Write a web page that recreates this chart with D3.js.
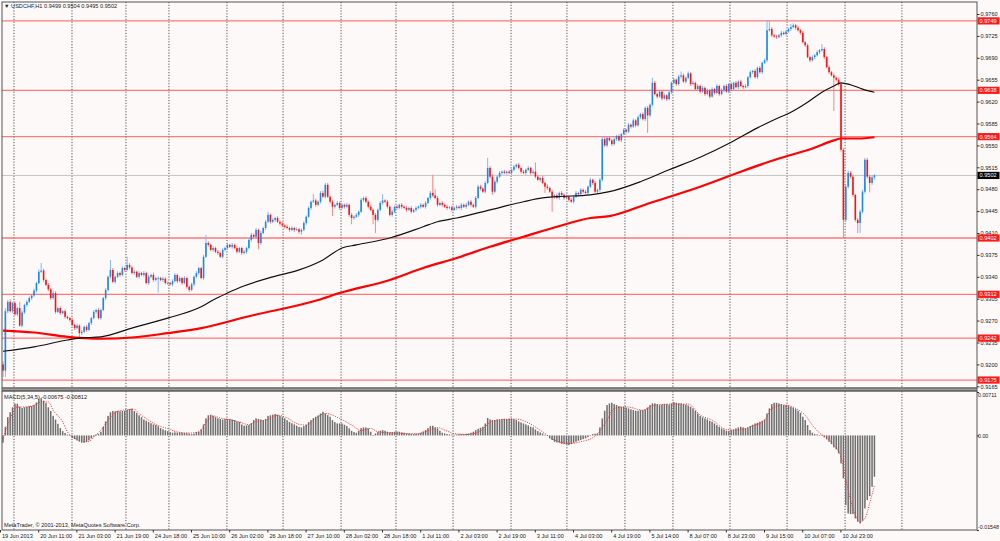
<!DOCTYPE html>
<html>
<head>
<meta charset="utf-8">
<script src="https://cdn.jsdelivr.net/npm/d3@7"></script>
<style>
  body { margin: 0; background: #fcf9f8; overflow: hidden; }
  svg text { font-family: "Liberation Sans", Arial, sans-serif; font-size: 5.6px; fill: #222; }
  svg .macd-axis text { font-size: 5.3px; }
</style>
</head>
<body>
<script>
// USDCHF H1, prices in pips (9502 = 0.9502)
const firstOpen = 9200;
const closes = [
  9190,9285,9300,9285,9298,9280,9290,9262,9283,9295,9300,9306,9310,9318,9330,9348,9350,9335,9327,9320,
  9306,9314,9284,9290,9282,9285,9276,9274,9271,9263,9258,9262,9250,9252,9260,9255,9266,9274,9284,9287,
  9274,9287,9306,9319,9340,9351,9332,9340,9346,9343,9354,9351,9359,9355,9346,9348,9340,9346,9343,9346,
  9330,9340,9343,9335,9338,9338,9335,9337,9330,9330,9328,9333,9343,9333,9338,9330,9338,9324,9319,9328,
  9340,9346,9354,9338,9372,9394,9391,9383,9386,9380,9378,9372,9383,9386,9391,9388,9391,9386,9380,9386,
  9378,9380,9386,9399,9407,9404,9415,9394,9410,9418,9428,9439,9428,9431,9434,9428,9425,9422,9420,9418,
  9415,9418,9415,9416,9412,9415,9426,9436,9450,9460,9462,9455,9460,9474,9468,9487,9468,9460,9452,9455,
  9458,9450,9455,9452,9455,9439,9434,9436,9439,9444,9463,9466,9460,9452,9447,9439,9431,9447,9458,9462,
  9460,9452,9439,9444,9452,9450,9455,9452,9450,9447,9450,9444,9447,9450,9452,9455,9452,9458,9466,9474,
  9470,9466,9455,9458,9455,9452,9450,9451,9447,9450,9452,9450,9455,9452,9455,9460,9455,9452,9466,9484,
  9481,9476,9490,9514,9500,9476,9492,9500,9506,9508,9506,9508,9506,9511,9516,9519,9514,9508,9506,9511,
  9514,9506,9508,9500,9495,9498,9490,9484,9482,9476,9468,9470,9466,9474,9471,9466,9468,9463,9460,9468,
  9474,9472,9479,9476,9474,9484,9495,9490,9476,9479,9495,9560,9550,9562,9558,9552,9560,9565,9558,9568,
  9575,9572,9583,9580,9590,9582,9595,9600,9592,9610,9598,9615,9650,9632,9628,9636,9625,9630,9624,9635,
  9650,9655,9648,9660,9662,9652,9658,9665,9648,9650,9640,9645,9636,9642,9632,9638,9628,9640,9634,9645,
  9632,9638,9645,9636,9648,9640,9650,9643,9652,9645,9643,9645,9659,9667,9669,9659,9674,9667,9682,9686,
  9734,9736,9726,9724,9723,9726,9730,9728,9732,9736,9739,9742,9738,9734,9730,9715,9710,9691,9686,9691,
  9694,9699,9702,9704,9691,9675,9667,9662,9658,9655,9648,9543,9431,9484,9506,9500,9471,9431,9426,9444,
  9476,9527,9500,9490,9499,9502
];
// wick length above / below the body, pips
const wickUp = [
  5,5,3,4,2,3,2,10,3,2,2,3,2,3,2,4,12,3,2,3,
  2,4,3,2,3,2,3,2,2,3,2,3,2,3,2,3,2,2,3,2,
  3,2,2,3,2,16,3,2,3,2,3,2,13,3,2,3,2,3,2,3,
  2,3,2,4,2,3,2,3,2,3,2,3,3,2,3,2,3,2,2,3,
  2,3,2,2,3,13,3,2,3,2,3,2,3,2,3,2,3,2,3,2,
  2,3,2,3,3,2,3,2,3,2,3,5,2,3,2,3,2,3,2,3,
  2,3,2,3,2,2,3,2,3,2,10,3,2,3,4,3,3,2,3,2,
  3,2,3,2,3,2,3,2,3,2,3,2,3,2,3,2,3,2,3,10,
  2,3,2,3,2,3,2,3,2,3,2,3,2,3,2,3,2,3,2,3,
  29,10,3,2,3,2,3,2,3,2,3,2,3,2,3,2,3,2,3,3,
  3,2,3,16,3,4,3,2,3,2,3,2,3,2,3,2,3,2,3,2,
  3,2,3,15,3,2,3,2,4,2,3,2,3,2,3,2,3,2,3,2,
  3,2,3,2,3,2,3,2,3,2,3,5,3,2,3,2,3,2,3,2,
  3,2,3,2,3,2,3,2,3,2,3,2,8,3,2,3,2,3,2,3,
  2,3,2,3,6,3,2,3,2,3,2,3,2,3,2,3,2,3,2,3,
  2,3,2,3,2,3,2,3,2,3,2,3,2,3,2,3,2,3,2,3,
  16,14,3,2,3,2,3,2,3,2,5,3,2,3,2,3,2,3,2,3,
  2,3,2,8,3,2,3,2,3,2,3,3,3,4,4,3,3,2,3,3,
  3,3,3,3,3,2
];
const wickDn = [
  10,10,3,2,3,2,3,2,3,2,3,2,3,2,3,2,2,3,2,3,
  3,2,3,2,3,2,3,2,3,2,3,2,8,3,2,3,2,3,2,3,
  2,3,2,3,2,3,2,3,2,3,2,3,2,3,2,3,2,3,2,3,
  2,3,2,3,2,23,2,3,2,3,2,3,2,3,2,3,2,3,3,2,
  3,2,3,2,3,2,3,2,3,2,3,2,3,2,3,2,3,2,3,2,
  3,2,3,2,3,2,3,10,3,2,3,2,3,2,3,2,3,2,3,2,
  3,2,3,2,3,5,2,3,2,3,2,3,2,3,2,3,2,3,15,3,
  2,3,2,3,2,3,10,3,2,3,2,3,2,3,2,15,21,3,2,3,
  2,3,2,3,2,3,2,3,2,3,2,3,2,3,2,3,2,3,2,3,
  3,2,3,2,3,2,3,2,3,2,3,2,3,2,3,2,3,2,3,2,
  3,2,3,2,3,5,2,3,2,3,2,3,2,3,2,3,2,3,2,3,
  2,3,2,3,2,3,2,10,3,2,24,3,2,3,2,3,2,3,2,3,
  2,3,2,3,2,3,2,3,2,3,3,3,2,3,2,3,2,3,2,3,
  2,3,2,3,2,3,2,3,2,3,28,3,3,2,3,2,3,2,3,2,
  3,2,3,2,3,2,3,2,3,2,3,2,3,2,3,2,3,2,3,2,
  3,2,3,2,3,2,3,2,3,2,3,2,3,2,3,2,3,2,3,2,
  3,2,3,2,3,2,3,2,3,2,3,2,3,2,3,2,3,2,3,2,
  3,2,3,2,3,2,3,2,53,3,3,3,29,3,3,3,3,3,16,16,
  3,3,3,15,3,4
];

// moving averages: [bar, price]
const maBlack = [[0,9221],[13,9228],[27,9239],[32,9242],[41,9244],[54,9258],[69,9274],[83,9292],[88,9303],
  [94,9314],[100,9324],[113,9340],[124,9351],[134,9367],[142,9386],[148,9391],[162,9402],[176,9420],
  [182,9428],[190,9434],[204,9447],[218,9460],[226,9466],[232,9468],[246,9471],[254,9476],[267,9492],
  [279,9511],[292,9531],[305,9555],[316,9578],[323,9591],[330,9603],[337,9619],[343,9635],[348,9645],
  [351,9650],[355,9647],[360,9640],[365,9635]];
const maRed = [[0,9254],[13,9251],[27,9244],[34,9242],[41,9241],[54,9243],[69,9250],[83,9258],[103,9277],
  [132,9303],[141,9314],[162,9335],[176,9354],[190,9370],[204,9388],[218,9404],[232,9420],[246,9434],
  [254,9437],[271,9458],[292,9484],[309,9508],[325,9529],[339,9545],[348,9558],[351,9561],[358,9561],[365,9563]];

// MACD(5,34,5) histogram, units of 0.00001
const macdHist = [
  -120,140,300,380,460,520,520,470,450,460,470,480,480,500,540,600,610,570,530,460,
  400,320,260,190,120,70,40,15,-10,-40,-60,-80,-95,-115,-120,-105,-80,-50,-20,15,
  25,60,140,230,320,380,400,395,400,395,400,405,420,430,440,400,370,330,300,260,
  240,220,200,180,170,150,120,100,85,70,55,45,50,45,50,45,40,35,30,20,
  30,55,60,100,180,280,330,340,320,300,280,270,260,270,265,270,260,250,230,220,
  180,160,165,170,200,250,280,270,260,250,270,320,330,340,350,340,320,300,280,250,
  220,200,180,160,140,131,153,175,218,251,284,306,327,360,387,360,333,306,251,218,
  196,196,196,175,153,115,76,55,44,76,120,131,131,115,60,-10,33,55,76,87,
  76,60,49,55,60,65,60,49,44,33,33,27,22,27,33,44,65,87,120,153,
  158,131,115,76,44,33,22,16,11,11,16,22,22,22,27,33,44,60,87,109,
  126,142,196,284,262,251,251,262,262,267,273,267,273,278,267,251,229,213,196,180,
  164,142,131,98,71,49,33,11,-5,-49,-76,-104,-115,-120,-136,-142,-147,-158,-142,-120,
  -104,-87,-76,-60,-49,-27,5,22,27,33,131,278,404,497,524,535,513,497,480,469,
  469,458,442,426,415,404,404,415,415,426,458,497,524,524,513,497,502,513,513,502,
  524,546,535,524,524,513,502,491,469,442,404,360,317,295,278,262,240,224,196,169,
  142,115,98,76,71,87,98,115,131,142,131,120,131,153,175,196,207,224,240,262,
  360,442,513,535,535,524,513,497,497,486,469,453,431,404,371,306,251,169,87,44,
  22,16,5,-5,-32,-65,-104,-142,-196,-228,-294,-458,-704,-1140,-1277,-1288,-1288,-1359,-1413,-1441,
  -1397,-1195,-1059,-993,-840,-675
];
const macdSignal = [[0,-52],[3,275],[6,466],[9,466],[13,493],[16,548],[19,548],[21,411],[25,220],[27,57],
  [30,-41],[33,-107],[36,-96],[38,-25],[41,84],[45,302],[48,395],[52,422],[55,428],[57,357],[60,275],
  [64,177],[69,111],[73,57],[78,40],[82,57],[85,209],[88,319],[91,286],[95,258],[99,220],[103,177],
  [106,231],[110,248],[115,330],[119,286],[123,193],[127,169],[131,278],[135,360],[141,278],[146,169],
  [150,80],[154,115],[157,60],[162,44],[168,33],[173,27],[179,90],[182,130],[185,87],[189,30],[195,16],
  [200,76],[205,235],[210,262],[215,267],[219,224],[226,60],[231,-76],[237,-131],[242,-104],[248,-11],
  [253,251],[256,440],[261,469],[268,415],[273,497],[280,513],[287,513],[292,333],[297,251],[303,98],
  [308,87],[313,142],[319,251],[322,440],[327,497],[332,442],[336,330],[339,170],[342,40],[345,-40],
  [348,-158],[351,-349],[354,-895],[357,-1304],[359,-1413],[361,-1359],[363,-1113],[365,-812]];

const levels = [9749, 9638, 9564, 9402, 9312, 9242, 9175];
const lastPrice = 9502;
const priceTicks = [9760,9725,9690,9655,9620,9585,9550,9515,9480,9445,9410,9375,9340,9305,9270,9235,9200,9165];
const macdTicks = [711, 0, -1548];
const timeLabels = ['19 Jun 2013','20 Jun 11:00','21 Jun 03:00','21 Jun 19:00','24 Jun 18:00','25 Jun 10:00',
  '26 Jun 02:00','26 Jun 18:00','27 Jun 10:00','28 Jun 02:00','28 Jun 18:00','1 Jul 11:00','2 Jul 03:00',
  '2 Jul 19:00','3 Jul 11:00','4 Jul 03:00','4 Jul 19:00','5 Jul 14:00','8 Jul 07:00','8 Jul 23:00',
  '9 Jul 15:00','10 Jul 07:00','10 Jul 23:00'];
const gridBars = [4.6,28.9,51.5,69.5,93.8,117.3,141.6,164.6,188.5,212.8,236.2,260.5,280.6,304.5,328.4,352.7,376.5];

const W = 1000, H = 541;
const plotL = 2, plotR = 977, plotT = 2, mainB = 388, macdT = 391, macdB = 530;

const svg = d3.select('body').append('svg')
  .attr('width', W)
  .attr('height', H);

svg.append('rect').attr('width', W).attr('height', H).attr('fill', '#fcf9f8');

const x = d3.scaleLinear().domain([0, 16]).range([3, 41.2]);
const y = d3.scaleLinear().domain([9165, 9760]).range([386.3, 14]);
const ym = d3.scaleLinear().domain([-1548, 711]).range([macdB, 392]);

const defs = svg.append('defs');
defs.append('clipPath').attr('id', 'clipMain').append('rect')
  .attr('x', plotL).attr('y', plotT).attr('width', plotR - plotL).attr('height', mainB - plotT);
defs.append('clipPath').attr('id', 'clipMacd').append('rect')
  .attr('x', plotL).attr('y', macdT).attr('width', plotR - plotL).attr('height', macdB - macdT);

// vertical grid
svg.append('g').selectAll('line').data(gridBars).join('line')
  .attr('x1', d => x(d)).attr('x2', d => x(d))
  .attr('y1', plotT).attr('y2', macdB)
  .attr('stroke', '#444').attr('stroke-width', 0.9).attr('stroke-dasharray', '1.2,1.6');

const main = svg.append('g').attr('clip-path', 'url(#clipMain)');

// horizontal levels
main.selectAll('line.level').data(levels).join('line')
  .attr('class', 'level')
  .attr('x1', plotL).attr('x2', plotR)
  .attr('y1', d => y(d)).attr('y2', d => y(d))
  .attr('stroke', '#ff4d4d').attr('stroke-opacity', 0.75).attr('stroke-width', 1.3);

main.append('line')
  .attr('x1', plotL).attr('x2', plotR)
  .attr('y1', y(lastPrice)).attr('y2', y(lastPrice))
  .attr('stroke', '#c4c4c4').attr('stroke-width', 1);

// candles
const candles = closes.map((c, i) => {
  const o = i === 0 ? firstOpen : closes[i - 1];
  return { i, o, c, h: Math.max(o, c) + wickUp[i], l: Math.min(o, c) - wickDn[i] };
});

main.selectAll('line.wick').data(candles).join('line')
  .attr('class', 'wick')
  .attr('x1', d => x(d.i)).attr('x2', d => x(d.i))
  .attr('y1', d => y(d.h)).attr('y2', d => y(d.l))
  .attr('stroke', d => d.c >= d.o ? '#6fb2f7' : '#ff7676')
  .attr('stroke-width', 0.9);

main.selectAll('rect.body').data(candles).join('rect')
  .attr('class', 'body')
  .attr('x', d => x(d.i) - 0.8)
  .attr('width', 1.6)
  .attr('y', d => y(Math.max(d.o, d.c)))
  .attr('height', d => Math.max(0.7, Math.abs(y(d.o) - y(d.c))))
  .attr('fill', d => d.c >= d.o ? '#1e88f0' : '#ff1010');

// moving averages
const maLine = d3.line().x(d => x(d[0])).y(d => y(d[1])).curve(d3.curveMonotoneX);
main.append('path').attr('d', maLine(maRed))
  .attr('fill', 'none').attr('stroke', '#ff0000').attr('stroke-width', 2.2);
main.append('path').attr('d', maLine(maBlack))
  .attr('fill', 'none').attr('stroke', '#111').attr('stroke-width', 1.2);

// MACD panel
const macd = svg.append('g').attr('clip-path', 'url(#clipMacd)');
macd.selectAll('rect').data(macdHist).join('rect')
  .attr('x', (d, i) => x(i) - 0.75)
  .attr('width', 1.5)
  .attr('y', d => Math.min(ym(d), ym(0)))
  .attr('height', d => Math.max(0.5, Math.abs(ym(d) - ym(0))))
  .attr('fill', '#6e6e6e');

const sigLine = d3.line().x(d => x(d[0])).y(d => ym(d[1])).curve(d3.curveMonotoneX);
macd.append('path').attr('d', sigLine(macdSignal))
  .attr('fill', 'none').attr('stroke', '#ff2a2a').attr('stroke-width', 1)
  .attr('stroke-dasharray', '1,1.4');

// frames
svg.append('rect').attr('x', plotL).attr('y', plotT).attr('width', plotR - plotL).attr('height', mainB - plotT)
  .attr('fill', 'none').attr('stroke', '#555').attr('stroke-width', 1);
svg.append('rect').attr('x', plotL).attr('y', mainB).attr('width', plotR - plotL).attr('height', macdT - mainB)
  .attr('fill', '#9a9a9a').attr('stroke', '#555').attr('stroke-width', 0.8);
svg.append('rect').attr('x', plotL).attr('y', macdT).attr('width', plotR - plotL).attr('height', macdB - macdT)
  .attr('fill', 'none').attr('stroke', '#555').attr('stroke-width', 1);

// price axis
const yAxis = svg.append('g').attr('transform', `translate(${plotR},0)`)
  .call(d3.axisRight(y).tickValues(priceTicks).tickFormat(d => (d / 10000).toFixed(4)).tickSize(2.5).tickPadding(1));
yAxis.select('.domain').remove();
yAxis.selectAll('line').attr('stroke', '#333');

const macdAxis = svg.append('g').attr('class', 'macd-axis').attr('transform', `translate(${plotR},0)`)
  .call(d3.axisRight(ym).tickValues(macdTicks).tickFormat(d => d === 0 ? '0.00' : (d / 100000).toFixed(5)).tickSize(2).tickPadding(1));
macdAxis.select('.domain').remove();
macdAxis.selectAll('line').attr('stroke', '#333');
macdAxis.selectAll('text').attr('x', 1)
  .attr('dy', d => d === 711 ? '0.9em' : d === -1548 ? '-0.3em' : '0.32em');

// level tags on the axis
const tags = levels.map(v => ({ v, bg: '#ff1a1a' })).concat([{ v: lastPrice, bg: '#000' }]);
const tag = svg.append('g').selectAll('g').data(tags).join('g')
  .attr('transform', d => `translate(${plotR + 0.5},${y(d.v)})`);
tag.append('rect').attr('x', 0).attr('y', -3.6).attr('width', 22).attr('height', 7.2).attr('fill', d => d.bg);
tag.append('text').attr('x', 2).attr('dy', '0.35em').style('fill', '#fff')
  .text(d => (d.v / 10000).toFixed(4));

// time axis
const xAxis = svg.append('g').attr('transform', `translate(-3,${macdB})`)
  .call(d3.axisBottom(x).tickValues(timeLabels.map((t, k) => k * 16))
    .tickFormat((d, k) => timeLabels[k]).tickSize(2.5).tickPadding(1));
xAxis.select('.domain').remove();
xAxis.selectAll('line').attr('stroke', '#333');
xAxis.selectAll('text').attr('text-anchor', 'start').attr('x', 1.5).attr('dy', '0.85em');

// captions
svg.append('text').attr('x', 4).attr('y', 8).text('\u25BC USDCHF,H1  0.9499 0.9504 0.9495 0.9502');
svg.append('text').attr('x', 4).attr('y', 399).text('MACD(5,34,5) -0.00675 -0.00812');
svg.append('text').attr('x', 4).attr('y', 527).text('MetaTrader, \u00A9 2001-2013, MetaQuotes Software Corp.');
</script>
</body>
</html>
